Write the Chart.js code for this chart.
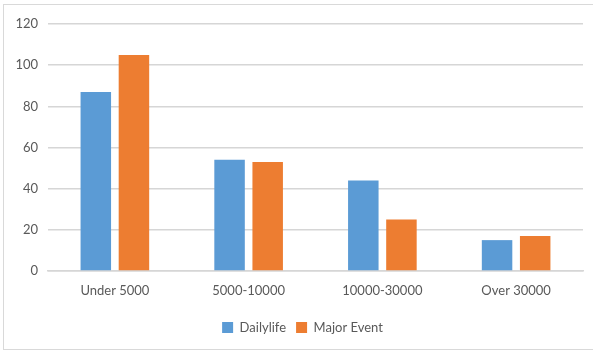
<!DOCTYPE html>
<html>
<head>
<meta charset="utf-8">
<script src="https://cdn.jsdelivr.net/npm/chart.js@4/dist/chart.umd.min.js"></script>
<style>
  html, body { margin: 0; padding: 0; background: #fff; }
  #wrap { position: relative; width: 593px; height: 353px; overflow: hidden; }
  #frame { position: absolute; left: 3px; top: 4px; width: 600px; height: 346px; border: 1px solid #D9D9D9; box-sizing: border-box; }
  canvas { position: absolute; left: 0; top: 0; }
</style>
</head>
<body>
<div id="wrap">
  <div id="frame"></div>
  <canvas id="chart" width="593" height="353"></canvas>
</div>
<script>
const categories = ['Under 5000', '5000-10000', '10000-30000', 'Over 30000'];
const dailylife = [87, 54, 44, 15];
const majorEvent = [105, 53, 25, 17];
const seriesNames = ['Dailylife', 'Major Event'];

const FONT = "Lato, 'Open Sans', sans-serif";

// Centre the legend under the whole frame rather than under the plot span.
const legendShift = {
  id: 'legendShift',
  afterLayout(chart) {
    const lg = chart.legend;
    if (lg) { lg.left += 11; lg.right += 11; }
  }
};

new Chart(document.getElementById('chart'), {
  type: 'bar',
  data: {
    labels: categories,
    datasets: [
      { label: seriesNames[0], data: dailylife, backgroundColor: '#5B9BD5' },
      { label: seriesNames[1], data: majorEvent, backgroundColor: '#ED7D31' }
    ]
  },
  plugins: [legendShift],
  options: {
    responsive: false,
    animation: false,
    devicePixelRatio: 1,
    layout: { padding: { left: 0, right: 10, top: 24, bottom: 9 } },
    datasets: { bar: { categoryPercentage: 0.57, barPercentage: 0.8 } },
    plugins: {
      tooltip: { enabled: false },
      legend: {
        position: 'bottom',
        labels: {
          boxWidth: 11, boxHeight: 11, padding: 10,
          color: '#595959',
          font: { family: FONT, size: 13 }
        }
      }
    },
    scales: {
      x: {
        grid: { display: false, drawTicks: false },
        border: { display: true, color: '#D6D6D6', width: 1.4 },
        ticks: { color: '#595959', padding: 12, font: { family: FONT, size: 13 } },
        afterFit: (s) => { s.height = 40; }
      },
      y: {
        min: 0, max: 120,
        ticks: { stepSize: 20, color: '#595959', padding: 10, font: { family: FONT, size: 13 } },
        grid: { color: '#D6D6D6', lineWidth: 1.4, drawTicks: false },
        border: { display: false },
        afterFit: (s) => { s.width = 48; }
      }
    }
  }
});
</script>
</body>
</html>
